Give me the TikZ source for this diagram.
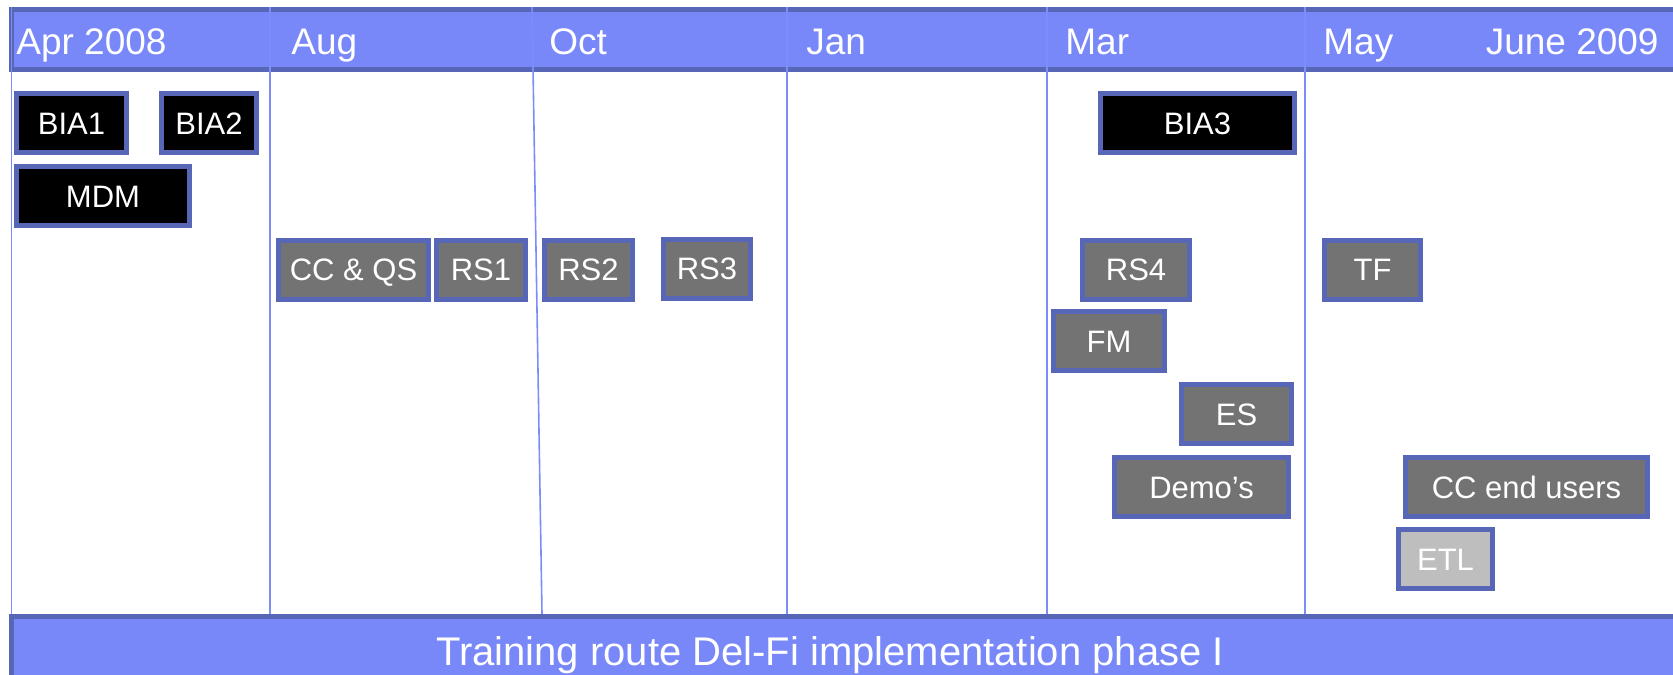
\documentclass[tikz,border=0pt]{standalone}
\usepackage{fontspec}
\setmainfont{Liberation Sans}
\definecolor{band_blue}{HTML}{7888F8}
\definecolor{line_blue}{HTML}{7C8CF8}
\definecolor{edge_blue}{HTML}{5866B8}
\definecolor{task_grey}{HTML}{737373}
\definecolor{task_light}{HTML}{BEBEBE}
\begin{document}
\begin{tikzpicture}[x=0.5pt,y=-0.5pt,
month_style/.style={anchor=base west,text=white,inner sep=0pt,font=\fontsize{18.5}{20}\selectfont},
band_style/.style={draw=edge_blue,fill=band_blue,line width=2.5pt},
grid_style/.style={draw=line_blue,line width=0.8pt},
task_style/.style={rectangle,draw=edge_blue,line width=2.5pt,text=white,inner sep=0pt,text height=11.1pt,text depth=0pt,minimum height=29.5pt,font=\fontsize{15.5}{18}\selectfont},
black_task/.style={task_style,fill=black},
grey_task/.style={task_style,fill=task_grey},
light_task/.style={task_style,fill=task_light}]
\useasboundingbox (0,0) rectangle (1673,674);

% month bar
\draw[band_style] (11.5,9.5) rectangle (1690,69.5);
\node[month_style] (apr) at (16,55) {Apr 2008};
\node[month_style] (aug) at (291,55) {Aug};
\node[month_style] (oct) at (549,55) {Oct};
\node[month_style] (jan) at (806,55) {Jan};
\node[month_style] (mar) at (1065,55) {Mar};
\node[month_style] (may) at (1323,55) {May};
\node[month_style,anchor=base east] (june) at (1659,55) {June 2009};

% month lines
\draw[grid_style] (11.5,7) -- (11.5,614);
\draw[grid_style] (270,7) -- (270,614);
\draw[grid_style] (532,7) -- (542,614);
\draw[grid_style] (787,7) -- (787,614);
\draw[grid_style] (1047,7) -- (1047,614);
\draw[grid_style] (1305,7) -- (1305,614);

% phase bar
\draw[band_style] (11.5,616.5) rectangle (1690,690);
\node[text=white,anchor=base,inner sep=0pt,font=\fontsize{20}{22}\selectfont] (phase) at (830,665) {Training route Del-Fi implementation phase I};

% trainings
\node[black_task,minimum width=55pt] (bia1) at (71.5,123) {BIA1};
\node[black_task,minimum width=47.5pt] (bia2) at (209,123) {BIA2};
\node[black_task,minimum width=86.5pt] (mdm) at (103,196) {MDM};
\node[black_task,minimum width=97pt] (bia3) at (1197.5,123) {BIA3};

\node[grey_task,minimum width=75pt] (ccqs) at (353.5,269.5) {CC \& QS};
\node[grey_task,minimum width=44.5pt] (rs1) at (481,269.5) {RS1};
\node[grey_task,minimum width=44pt] (rs2) at (588.5,269.5) {RS2};
\node[grey_task,minimum width=43.5pt] (rs3) at (707,268.5) {RS3};
\node[grey_task,minimum width=53.5pt] (rs4) at (1136,269.5) {RS4};
\node[grey_task,minimum width=48pt] (tf) at (1372.5,269.5) {TF};
\node[grey_task,minimum width=55.5pt] (fm) at (1109,341) {FM};
\node[grey_task,minimum width=55pt] (es) at (1236.5,414) {ES};
\node[grey_task,minimum width=87pt] (demos) at (1201.5,487) {Demo’s};
\node[grey_task,minimum width=121pt] (ccend) at (1526.5,487) {CC end users};
\node[light_task,minimum width=47pt] (etl) at (1445.5,559) {ETL};
\end{tikzpicture}
\end{document}
